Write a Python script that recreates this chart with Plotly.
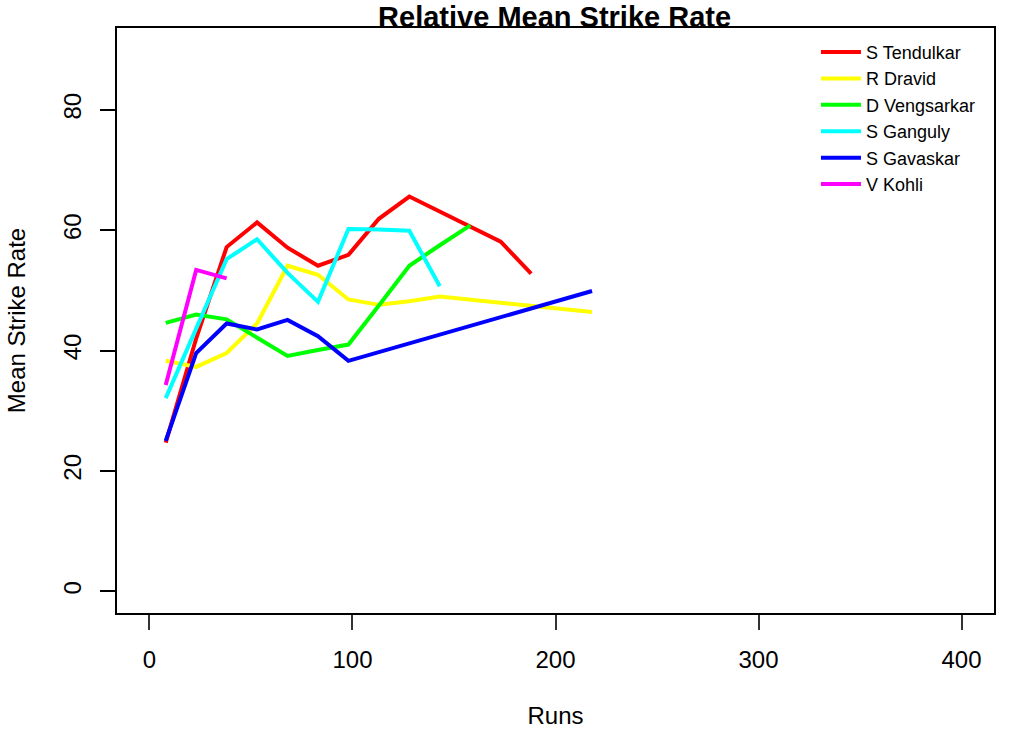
import plotly.graph_objects as go

players = ["S Tendulkar", "R Dravid", "D Vengsarkar", "S Ganguly", "S Gavaskar", "V Kohli"]
colors = ["#FF0000", "#FFFF00", "#00FF00", "#00FFFF", "#0000FF", "#FF00FF"]

tendulkar_x = [8, 23, 38, 53, 68, 83, 98, 113, 128, 143, 158, 173, 188]
tendulkar_y = [24.7, 42.0, 57.2, 61.3, 57.1, 54.1, 55.9, 61.9, 65.6, 63.1, 60.7, 58.1, 52.8]

dravid_x = [8, 23, 38, 53, 68, 83, 98, 113, 128, 143, 218]
dravid_y = [38.3, 37.3, 39.6, 44.5, 54.1, 52.6, 48.5, 47.6, 48.2, 49.0, 46.4]

vengsarkar_x = [8, 23, 38, 53, 68, 83, 98, 113, 128, 143, 158]
vengsarkar_y = [44.6, 46.0, 45.2, 42.1, 39.1, 40.1, 41.0, 47.5, 54.1, 57.5, 60.8]

ganguly_x = [8, 23, 38, 53, 68, 83, 98, 113, 128, 143]
ganguly_y = [32.1, 43.5, 55.2, 58.5, 52.9, 48.1, 60.2, 60.1, 59.9, 50.7]

gavaskar_x = [8, 23, 38, 53, 68, 83, 98, 218]
gavaskar_y = [25.0, 39.6, 44.5, 43.5, 45.1, 42.4, 38.3, 49.9]

kohli_x = [8, 23, 38]
kohli_y = [34.3, 53.4, 52.0]

series_x = [tendulkar_x, dravid_x, vengsarkar_x, ganguly_x, gavaskar_x, kohli_x]
series_y = [tendulkar_y, dravid_y, vengsarkar_y, ganguly_y, gavaskar_y, kohli_y]

x_ticks = [0, 100, 200, 300, 400]
y_ticks = [0, 20, 40, 60, 80]

FONT = "Liberation Sans, Arial, sans-serif"

fig = go.Figure()
for name, col, xs, ys in zip(players, colors, series_x, series_y):
    fig.add_trace(go.Scatter(x=xs, y=ys, mode="lines", name=name,
                             line=dict(color=col, width=4)))

fig.update_layout(
    width=1024, height=731,
    margin=dict(l=117, r=30, t=28, b=118, autoexpand=False),
    paper_bgcolor="white", plot_bgcolor="white",
    font=dict(family=FONT, color="black"),
    title=dict(text="<b>Relative Mean Strike Rate</b>", x=0.5416, xanchor="center",
               y=0.977, yanchor="middle", font=dict(size=29, family=FONT)),
    showlegend=True,
    legend=dict(x=0.797, y=0.99, xanchor="left", yanchor="top",
                bgcolor="rgba(0,0,0,0)", borderwidth=0,
                font=dict(size=18, family=FONT), tracegroupgap=0,
                itemwidth=40),
)
fig.update_xaxes(range=[-16, 416], tickvals=x_ticks, ticktext=[str(v) for v in x_ticks],
                 showgrid=False, zeroline=False, showline=True, mirror=True,
                 linecolor="black", linewidth=1.5, ticks="outside", ticklen=15,
                 tickwidth=1.5, tickcolor="#333", tickfont=dict(size=24),
                 ticklabelstandoff=9, automargin=False,
                 title=dict(text="Runs", font=dict(size=24), standoff=36))
fig.update_yaxes(range=[-3.6, 93.6], tickvals=y_ticks, ticktext=[str(v) for v in y_ticks],
                 showgrid=False, zeroline=False, showline=True, mirror=True,
                 linecolor="black", linewidth=1.5, ticks="outside", ticklen=15,
                 tickwidth=1.5, tickcolor="black", tickfont=dict(size=24), tickangle=-90,
                 ticklabelstandoff=10, automargin=False,
                 title=dict(text="Mean Strike Rate", font=dict(size=24), standoff=26))

fig.write_html("out.html", config={"displayModeBar": False},
               post_script="document.body.style.margin='0';")
